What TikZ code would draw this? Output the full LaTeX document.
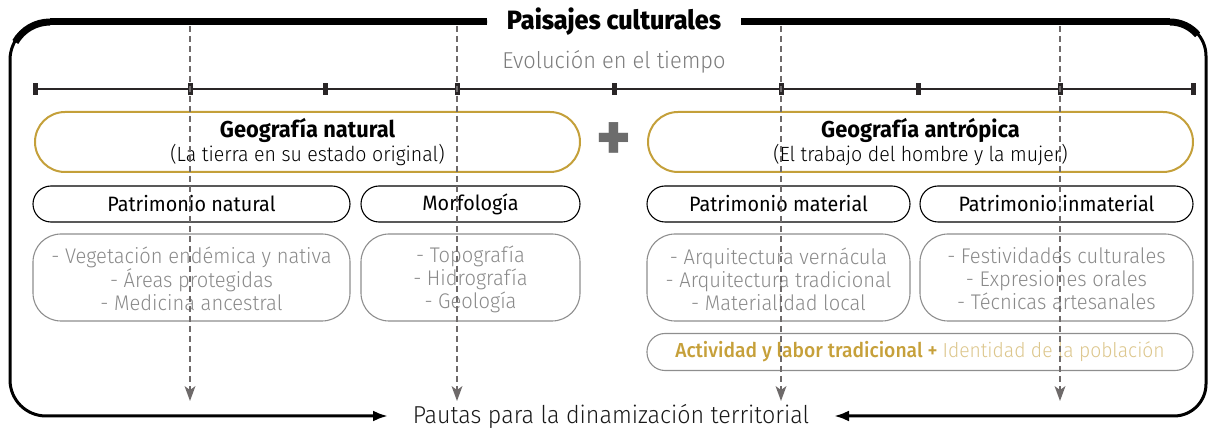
\documentclass[tikz,border=0pt]{standalone}
\usepackage{fontspec}
\setmainfont{Fira Sans}[FakeStretch=0.95]
\newfontfamily\lightf{Fira Sans Light}[FakeStretch=0.95]
\newfontfamily\medf{Fira Sans Medium}[FakeStretch=0.95]
\newfontfamily\heavyf{Fira Sans ExtraBold}[FakeStretch=0.95]
\usetikzlibrary{arrows.meta}
\definecolor{gold}{HTML}{C4A03A}
\definecolor{goldtxt}{HTML}{C6A03A}
\definecolor{lightgold}{HTML}{DCC68C}
\definecolor{listgray}{HTML}{8A8A8A}
\definecolor{evogray}{HTML}{7C7C7C}
\definecolor{boxgray}{HTML}{8E8E8E}
\definecolor{dashgray}{HTML}{6E6A6A}
\definecolor{plusgray}{HTML}{6C6C6C}
\definecolor{tickcol}{HTML}{2A2627}
\tikzset{
  bigbox/.style={draw=gold, line width=2pt, rounded corners=30pt, minimum width=545pt, minimum height=60pt, inner sep=0pt},
  catbox/.style={draw=black, line width=1.1pt, rounded corners=18pt, minimum height=36pt, inner sep=0pt, font=\fontsize{20.8}{24}\selectfont},
  listbox/.style={draw=boxgray, line width=1.1pt, rounded corners=28pt, minimum height=87pt, inner sep=0pt},
  listtxt/.style={text=listgray, font=\lightf\fontsize{21.2}{23}\selectfont, align=center, inner sep=0pt},
  headtxt/.style={font=\bfseries\fontsize{23}{26}\selectfont, inner sep=0pt},
  subtxt/.style={font=\lightf\fontsize{20.6}{24}\selectfont, inner sep=0pt},
  dashline/.style={draw=dashgray, line width=1.3pt, dash pattern=on 6pt off 4pt, -{Stealth[length=15pt,width=11pt,inset=4pt,fill=dashgray,line width=0pt]}},
  frame/.style={line width=3pt, line join=round},
  topframe/.style={line width=7pt},
}
\begin{document}
\begin{tikzpicture}[x=1pt,y=-1pt]
\useasboundingbox (0,0) rectangle (1211,430);
% title and subtitle
\node[font=\heavyf\fontsize{26.5}{30}\selectfont, inner sep=0pt] (title) at (614,22) {Paisajes culturales};
\node[text=evogray, font=\lightf\fontsize{23}{26}\selectfont, inner sep=0pt] (evo) at (614,62) {Evolución en el tiempo};
\node[text=black!90, font=\lightf\fontsize{24.5}{28}\selectfont, inner sep=0pt] (pautas) at (611,416) {Pautas para la dinamización territorial};
% frame
\coordinate (tl) at (487,22);
\coordinate (tr) at (741,22);
\draw[frame, -{Latex[length=15pt,width=11pt]}] (tl) -- (48,22) arc[start angle=90,end angle=180,radius=38pt] -- (10,380) arc[start angle=180,end angle=270,radius=36pt] -- (388,416);
\draw[frame, -{Latex[length=15pt,width=11pt]}] (tr) -- (1172,22) arc[start angle=90,end angle=0,radius=34pt] -- (1206,384) arc[start angle=0,end angle=-90,radius=32pt] -- (834,416);
\draw[topframe] (tl) -- (50,22);
\draw[topframe] (tr) -- (1170,22);
\draw[topframe] (50,22) arc[start angle=90,end angle=150,radius=40pt];
\draw[topframe] (1170,22) arc[start angle=90,end angle=40,radius=36pt];
% timeline
\coordinate (t0) at (35,89);
\coordinate (t8) at (1193,89);
\draw[tickcol, line width=1.2pt] (t0) -- (t8);
\foreach \x in {35,190,325,457,614,781,918,1060,1193}
  \fill[tickcol] (\x-2.5,83) rectangle (\x+2.5,95);
% geography boxes
\node[bigbox] (gn) at (307.5,142) {};
\node[headtxt] (gnh) at (307.5,130) {Geografía natural};
\node[subtxt] (gns) at (307.5,155) {(La tierra en su estado original)};
\node[bigbox] (ga) at (920.5,142) {};
\node[headtxt] (gah) at (920.5,130) {Geografía antrópica};
\node[subtxt] (gas) at (920.5,155) {(El trabajo del hombre y la mujer)};
\node[text=plusgray, font=\heavyf\fontsize{68}{68}\selectfont, inner sep=0pt] (plus) at (614,142) {+};
% category boxes
\node[catbox, minimum width=317pt] (pn) at (191.5,204) {Patrimonio natural};
\node[catbox, minimum width=219pt] (mo) at (470.5,204) {Morfología};
\node[catbox, minimum width=263pt] (pm) at (778.5,204) {Patrimonio material};
\node[catbox, minimum width=273pt] (pi) at (1056.5,204) {Patrimonio inmaterial};
% list boxes
\node[listbox, minimum width=317pt] (l1) at (191.5,277.5) {};
\node[listtxt] (l1t) at (191.5,279) {- Vegetación endémica y nativa\\- Áreas protegidas\\- Medicina ancestral};
\node[listbox, minimum width=219pt] (l2) at (470.5,277.5) {};
\node[listtxt] (l2t) at (470.5,279) {- Topografía\\- Hidrografía\\- Geología};
\node[listbox, minimum width=263pt] (l3) at (778.5,277.5) {};
\node[listtxt] (l3t) at (778.5,279) {- Arquitectura vernácula\\- Arquitectura tradicional\\- Materialidad local};
\node[listbox, minimum width=273pt] (l4) at (1056.5,277.5) {};
\node[listtxt] (l4t) at (1056.5,279) {- Festividades culturales\\- Expresiones orales\\- Técnicas artesanales};
% activity box
\node[draw=boxgray, line width=1.1pt, rounded corners=18pt, minimum width=546pt, minimum height=37pt, inner sep=0pt] (act) at (920,352) {};
\node[inner sep=0pt, font=\fontsize{20.3}{24}\selectfont] (actt) at (920,352) {\textcolor{goldtxt}{\medf Actividad y labor tradicional +} \textcolor{lightgold}{\lightf Identidad de la población}};
% dashed arrows
\foreach \n/\x in {1/190,2/457,3/781,4/1060}{
  \coordinate (d\n a) at (\x,26);
  \coordinate (d\n b) at (\x,401);
  \draw[dashline] (d\n a) -- (d\n b);
}
\end{tikzpicture}
\end{document}
